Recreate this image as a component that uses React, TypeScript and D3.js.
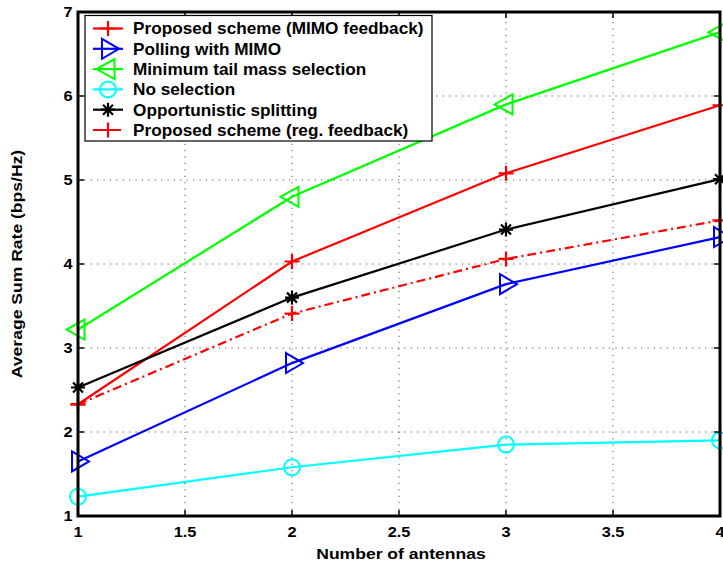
import React from "react";
import * as d3 from "d3";

const antennas = [1, 2, 3, 4];
const proposedMimo = [2.33, 4.03, 5.08, 5.89];
const pollingMimo = [1.65, 2.82, 3.76, 4.32];
const minTailMass = [3.22, 4.80, 5.90, 6.76];
const noSelection = [1.23, 1.58, 1.85, 1.90];
const opportunistic = [2.53, 3.60, 4.41, 5.01];
const proposedReg = [2.33, 3.41, 4.06, 4.52];

const xTicks = [1, 1.5, 2, 2.5, 3, 3.5, 4];
const xTickLabels = ["1", "1.5", "2", "2.5", "3", "3.5", "4"];
const yTicks = [1, 2, 3, 4, 5, 6, 7];
const yTickLabels = ["1", "2", "3", "4", "5", "6", "7"];

type Marker = "plus" | "triR" | "triL" | "circle" | "star";
const seriesNames = [
  "Proposed scheme (MIMO feedback)",
  "Polling with MIMO",
  "Minimum tail mass selection",
  "No selection",
  "Opportunistic splitting",
  "Proposed scheme (reg. feedback)",
];
const seriesValues = [proposedMimo, pollingMimo, minTailMass, noSelection, opportunistic, proposedReg];
const seriesColors = ["#ff0000", "#0000ff", "#00ff00", "#00ffff", "#000000", "#ff0000"];
const seriesMarkers: Marker[] = ["plus", "triR", "triL", "circle", "star", "plus"];
const seriesDash = [null, null, null, null, null, "9,4,2,4"];

const FONT = "'Liberation Sans', Arial, Helvetica, sans-serif";

function markerPath(m: Marker): string {
  switch (m) {
    case "plus":
      return "M-7.5,0H7.5M0,-7.5V7.5";
    case "triR":
      return "M-6,-10L11,0L-6,10Z";
    case "triL":
      return "M6.5,-10L-11.5,0L6.5,10Z";
    case "star":
      return "M-7,0H7M0,-7V7M-5,-5L5,5M-5,5L5,-5";
    default:
      return "";
  }
}

function MarkerShape({ m, x, y, color }: { m: Marker; x: number; y: number; color: string }) {
  if (m === "circle") {
    return <circle cx={x} cy={y} r={8} fill="none" stroke={color} strokeWidth={2} />;
  }
  return (
    <path
      d={markerPath(m)}
      transform={`translate(${x},${y})`}
      fill="none"
      stroke={color}
      strokeWidth={m === "plus" || m === "star" ? 2.2 : 2}
    />
  );
}

function SText({
  x, y, text, size, anchor, sx, rotate,
}: { x: number; y: number; text: string; size: number; anchor: string; sx: number; rotate?: number }) {
  const t = `translate(${x},${y})${rotate ? ` rotate(${rotate})` : ""} scale(${sx},1)`;
  return (
    <text transform={t} textAnchor={anchor as any} fontFamily={FONT} fontWeight="bold" fontSize={size} fill="#000">
      {text}
    </text>
  );
}

export default function App() {
  const W = 723, H = 569;
  const left = 78, right = 720, top = 12, bottom = 516;
  const x = d3.scaleLinear().domain([1, 4]).range([left, right]);
  const y = d3.scaleLinear().domain([1, 7]).range([bottom, top]);
  const line = d3.line<number>().x((_, i) => x(antennas[i])).y((d) => y(d));
  const tickLen = 6;

  const legX = 85, legY = 15.5, legW = 347, legH = 125.5;
  const rowY0 = 28.5, rowStep = 20.3;

  return (
    <svg width={W} height={H} style={{ position: "absolute", left: 0, top: 0, background: "#fff" }}>
      <rect x={0} y={0} width={W} height={H} fill="#fff" />
      {/* grid */}
      <g stroke="#333" strokeWidth={1} strokeDasharray="1,5.4">
        {xTicks.slice(1, -1).map((t) => (
          <line key={`gx${t}`} x1={x(t)} x2={x(t)} y1={bottom} y2={top} />
        ))}
        {yTicks.slice(1, -1).map((t) => (
          <line key={`gy${t}`} x1={left} x2={right} y1={y(t)} y2={y(t)} />
        ))}
      </g>
      {/* series lines */}
      {seriesValues.map((vals, i) => (
        <path
          key={`l${i}`}
          d={line(vals) || ""}
          fill="none"
          stroke={seriesColors[i]}
          strokeWidth={2.2}
          strokeDasharray={seriesDash[i] || undefined}
        />
      ))}
      {/* markers */}
      {seriesValues.map((vals, i) =>
        vals.map((v, j) => (
          <MarkerShape key={`m${i}-${j}`} m={seriesMarkers[i]} x={x(antennas[j])} y={y(v)} color={seriesColors[i]} />
        ))
      )}
      {/* axes box */}
      <rect x={left} y={top} width={right - left} height={bottom - top} fill="none" stroke="#000" strokeWidth={3} />
      {/* ticks */}
      <g stroke="#000" strokeWidth={1.5}>
        {xTicks.map((t) => (
          <g key={`tx${t}`}>
            <line x1={x(t)} x2={x(t)} y1={bottom} y2={bottom - tickLen} />
            <line x1={x(t)} x2={x(t)} y1={top} y2={top + tickLen} />
          </g>
        ))}
        {yTicks.map((t) => (
          <g key={`ty${t}`}>
            <line x1={left} x2={left + tickLen} y1={y(t)} y2={y(t)} />
            <line x1={right} x2={right - tickLen} y1={y(t)} y2={y(t)} />
          </g>
        ))}
      </g>
      {/* tick labels */}
      {xTicks.map((t, i) => (
        <SText key={`xl${t}`} x={x(t)} y={537} text={xTickLabels[i]} size={14} anchor="middle" sx={1.17} />
      ))}
      {yTicks.map((t, i) => (
        <SText key={`yl${t}`} x={72.5} y={y(t) + 5} text={yTickLabels[i]} size={14} anchor="end" sx={1.17} />
      ))}
      {/* axis labels */}
      <SText x={(left + right) / 2 + 2} y={559} text="Number of antennas" size={15} anchor="middle" sx={1.17} />
      <SText x={22} y={(top + bottom) / 2} text="Average Sum Rate (bps/Hz)" size={15} anchor="middle" sx={1.17} rotate={-90} />
      {/* legend */}
      <rect x={legX} y={legY} width={legW} height={legH} fill="#fff" stroke="#000" strokeWidth={1.2} />
      {seriesNames.map((name, i) => {
        const cy = rowY0 + i * rowStep;
        return (
          <g key={`lg${i}`}>
            <line
              x1={93}
              x2={123}
              y1={cy}
              y2={cy}
              stroke={seriesColors[i]}
              strokeWidth={2.2}
              strokeDasharray={seriesDash[i] || undefined}
            />
            <MarkerShape m={seriesMarkers[i]} x={108} y={cy} color={seriesColors[i]} />
            <SText x={133} y={cy + 5.8} text={name} size={16} anchor="start" sx={1.075} />
          </g>
        );
      })}
    </svg>
  );
}
